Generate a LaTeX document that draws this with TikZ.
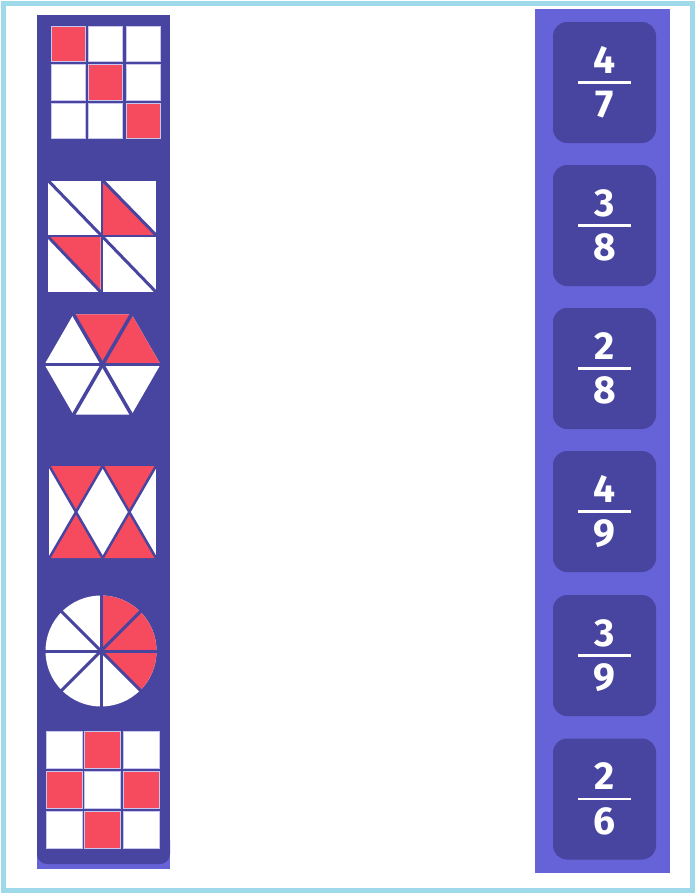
\documentclass[tikz,border=0pt]{standalone}
\usepackage{xcolor}
\usepackage{fontspec}
\setmainfont{Fira Sans}
\usepackage{tikz}
\usetikzlibrary{positioning}

\definecolor{panelblue}{HTML}{4845A0}
\definecolor{lightpanel}{HTML}{6662D8}
\definecolor{piecered}{HTML}{F64A5E}
\definecolor{frameblue}{HTML}{9DD9E8}
\definecolor{celledge}{HTML}{C9C6EE}

\begin{document}
\begin{tikzpicture}[x=1pt, y=-1pt, semithick]
		\tikzstyle{cell}=[rectangle, draw=celledge, line width=0.6pt, inner sep=0pt]
		\tikzstyle{card}=[rectangle, rounded corners=14pt, fill=panelblue, minimum width=103pt, minimum height=121pt]
		\tikzstyle{digit}=[text=white, font=\fontsize{39}{44}\selectfont\bfseries, inner sep=0pt, anchor=base]
		\tikzstyle{cut}=[draw=panelblue, line width=3pt]

		\useasboundingbox (0,0) rectangle (696,895);
		\draw[frameblue, line width=5pt] (3.5,3.5) rectangle (692.5,890);

		% left panel
		\fill[lightpanel] (37,15) rectangle (170,869);
		\fill[panelblue] (37,15) rectangle (170,850);
		\fill[panelblue, rounded corners=10pt] (37,830) rectangle (170,864);

		% grid 3/9
		\foreach \r/\c/\col in {0/0/piecered, 0/1/white, 0/2/white, 1/0/white, 1/1/piecered, 1/2/white, 2/0/white, 2/1/white, 2/2/piecered}
			\node[cell, fill=\col, minimum width=34pt, minimum height=35.5pt] (ga-\r\c) at (67.9+37.6*\c, 43.7+38.6*\r) {};

		% squares 2/8
		\fill[white] (48.3,180.7) rectangle (156,292);
		\fill[piecered] (103,180.7) -- (103,235) -- (156,235) -- cycle;
		\fill[piecered] (48.3,237) -- (100.7,237) -- (100.7,292) -- cycle;
		\draw[cut, line width=2.5pt] (101.85,180) -- (101.85,293);
		\draw[cut, line width=2.5pt] (48,236) -- (157,236);
		\draw[cut] (48.3,180.7) -- (156,292);
		\draw[cut] (103,180.7) -- (156,235);
		\draw[cut] (48.3,237) -- (100.7,292);

		% hexagon 2/6
		\begin{scope}[shift={(102.5,364.5)}]
			\foreach \a in {0,60,...,300}
				\fill[white] (0,0) -- (\a:58) -- (\a+60:58) -- cycle;
			\fill[piecered] (0,0) -- (240:58) -- (300:58) -- cycle;
			\fill[piecered] (0,0) -- (300:58) -- (360:58) -- cycle;
			\foreach \a in {0,60,120}
				\draw[cut, line width=3.5pt] (\a:59) -- (\a+180:59);
		\end{scope}

		% zigzag 4/8
		\fill[white] (49.3,466) rectangle (156,558);
		\fill[piecered] (49.3,466) -- (102.7,466) -- (76,512) -- cycle;
		\fill[piecered] (49.3,558) -- (102.7,558) -- (76,512) -- cycle;
		\fill[piecered] (102.7,466) -- (156,466) -- (129.3,512) -- cycle;
		\fill[piecered] (102.7,558) -- (156,558) -- (129.3,512) -- cycle;
		\draw[cut, line width=2.5pt] (49.3,466) -- (102.7,558);
		\draw[cut, line width=2.5pt] (102.7,466) -- (49.3,558);
		\draw[cut, line width=2.5pt] (102.7,466) -- (156,558);
		\draw[cut, line width=2.5pt] (156,466) -- (102.7,558);

		% circle 3/8
		\begin{scope}[shift={(101,651)}]
			\fill[white] (0,0) circle[radius=55.5];
			\fill[piecered] (0,0) -- (-90:55.5) arc[start angle=-90, end angle=45, radius=55.5] -- cycle;
			\foreach \a in {0,45,90,135}
				\draw[cut] (\a:56.5) -- (\a+180:56.5);
		\end{scope}

		% grid 4/9
		\foreach \r/\c/\col in {0/0/white, 0/1/piecered, 0/2/white, 1/0/piecered, 1/1/white, 1/2/piecered, 2/0/white, 2/1/piecered, 2/2/white}
			\node[cell, fill=\col, minimum width=36pt, minimum height=37pt] (gb-\r\c) at (64.2+38.4*\c, 749.7+40*\r) {};

		% right panel with fraction cards
		\fill[lightpanel] (535,9) rectangle (670,873);
		\foreach \n/\y/\a/\b in {1/82.5/4/7, 2/225.5/3/8, 3/368.5/2/8, 4/511.5/4/9, 5/655.5/3/9, 6/799/2/6} {
			\node[card] (card\n) at (604.5,\y) {};
			\node[digit] (num\n) at ([yshift=9.5pt]card\n.center) {\a};
			\node[digit] (den\n) at ([yshift=-35pt]card\n.center) {\b};
			\draw[white, line width=2.5pt] ([xshift=-26.5pt]card\n.center) -- ([xshift=26.5pt]card\n.center);
		}
	\end{tikzpicture}
\end{document}
